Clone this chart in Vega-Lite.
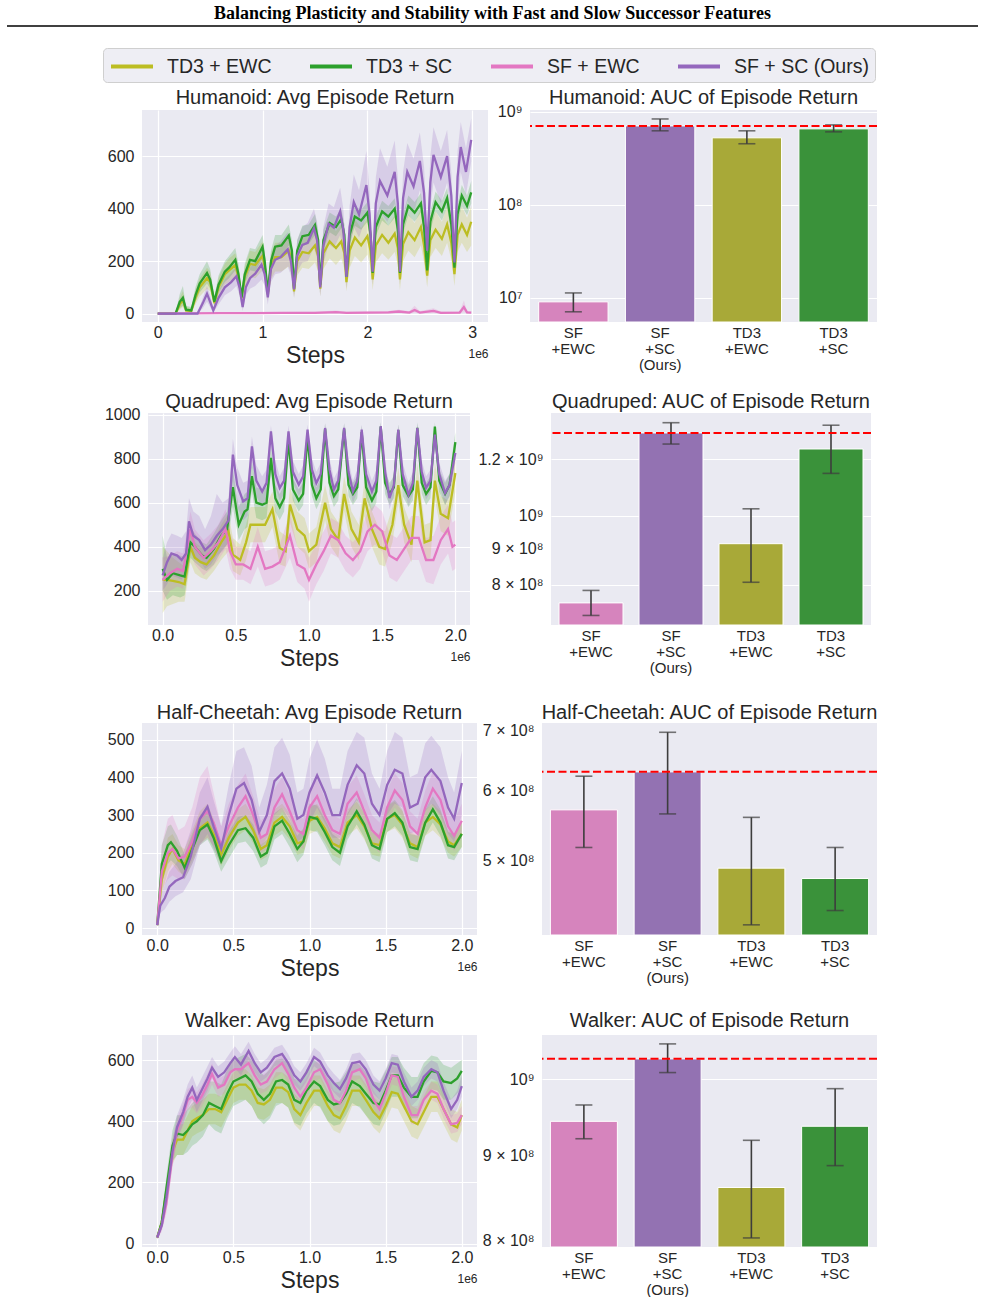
{
"$schema":"https://vega.github.io/schema/vega-lite/v6.json",
"padding":{"left":6,"top":5,"right":0,"bottom":0},
"datasets":{
"hum":[
{"m":"A","x":0,"y":0,"l":0,"h":0},{"m":"A","x":0.17,"y":0,"l":0,"h":2},{"m":"A","x":0.21,"y":35,"l":15,"h":60},{"m":"A","x":0.24,"y":52,"l":25,"h":85},{"m":"A","x":0.27,"y":12,"l":4,"h":25},{"m":"A","x":0.32,"y":10,"l":4,"h":20},{"m":"A","x":0.36,"y":60,"l":35,"h":90},{"m":"A","x":0.40,"y":100,"l":65,"h":135},{"m":"A","x":0.47,"y":135,"l":95,"h":175},{"m":"A","x":0.50,"y":120,"l":85,"h":160},{"m":"A","x":0.54,"y":40,"l":25,"h":60},{"m":"A","x":0.58,"y":100,"l":70,"h":135},{"m":"A","x":0.64,"y":150,"l":110,"h":190},{"m":"A","x":0.68,"y":165,"l":120,"h":210},{"m":"A","x":0.74,"y":185,"l":140,"h":230},{"m":"A","x":0.77,"y":140,"l":100,"h":180},{"m":"A","x":0.80,"y":58,"l":40,"h":80},{"m":"A","x":0.83,"y":140,"l":100,"h":180},{"m":"A","x":0.88,"y":190,"l":140,"h":240},{"m":"A","x":0.93,"y":185,"l":135,"h":235},{"m":"A","x":1.00,"y":220,"l":165,"h":275},{"m":"A","x":1.02,"y":180,"l":130,"h":230},{"m":"A","x":1.05,"y":72,"l":50,"h":95},{"m":"A","x":1.08,"y":180,"l":130,"h":230},{"m":"A","x":1.12,"y":215,"l":160,"h":270},{"m":"A","x":1.18,"y":215,"l":160,"h":270},{"m":"A","x":1.25,"y":240,"l":180,"h":300},{"m":"A","x":1.28,"y":200,"l":145,"h":255},{"m":"A","x":1.30,"y":85,"l":60,"h":110},{"m":"A","x":1.33,"y":200,"l":145,"h":255},{"m":"A","x":1.38,"y":235,"l":175,"h":295},{"m":"A","x":1.44,"y":230,"l":170,"h":290},{"m":"A","x":1.50,"y":260,"l":195,"h":325},{"m":"A","x":1.53,"y":220,"l":160,"h":280},{"m":"A","x":1.55,"y":95,"l":65,"h":125},{"m":"A","x":1.58,"y":230,"l":170,"h":290},{"m":"A","x":1.64,"y":275,"l":210,"h":340},{"m":"A","x":1.70,"y":250,"l":185,"h":315},{"m":"A","x":1.75,"y":275,"l":210,"h":340},{"m":"A","x":1.78,"y":230,"l":170,"h":290},{"m":"A","x":1.80,"y":120,"l":85,"h":155},{"m":"A","x":1.83,"y":240,"l":175,"h":305},{"m":"A","x":1.88,"y":290,"l":220,"h":360},{"m":"A","x":1.94,"y":260,"l":195,"h":325},{"m":"A","x":2.00,"y":295,"l":225,"h":365},{"m":"A","x":2.03,"y":240,"l":175,"h":305},{"m":"A","x":2.05,"y":130,"l":90,"h":170},{"m":"A","x":2.08,"y":260,"l":195,"h":325},{"m":"A","x":2.14,"y":300,"l":230,"h":370},{"m":"A","x":2.20,"y":270,"l":205,"h":335},{"m":"A","x":2.26,"y":305,"l":235,"h":375},{"m":"A","x":2.29,"y":250,"l":185,"h":315},{"m":"A","x":2.31,"y":130,"l":90,"h":170},{"m":"A","x":2.34,"y":265,"l":200,"h":330},{"m":"A","x":2.39,"y":310,"l":240,"h":380},{"m":"A","x":2.45,"y":280,"l":215,"h":345},{"m":"A","x":2.51,"y":330,"l":260,"h":400},{"m":"A","x":2.54,"y":260,"l":195,"h":325},{"m":"A","x":2.57,"y":145,"l":100,"h":190},{"m":"A","x":2.60,"y":280,"l":215,"h":345},{"m":"A","x":2.65,"y":320,"l":250,"h":390},{"m":"A","x":2.71,"y":285,"l":220,"h":350},{"m":"A","x":2.76,"y":340,"l":270,"h":410},{"m":"A","x":2.80,"y":270,"l":205,"h":335},{"m":"A","x":2.83,"y":150,"l":105,"h":195},{"m":"A","x":2.86,"y":300,"l":235,"h":365},{"m":"A","x":2.90,"y":340,"l":270,"h":410},{"m":"A","x":2.95,"y":300,"l":235,"h":365},{"m":"A","x":2.99,"y":350,"l":260,"h":410},
{"m":"B","x":0,"y":0,"l":0,"h":0},{"m":"B","x":0.17,"y":0,"l":0,"h":2},{"m":"B","x":0.21,"y":45,"l":20,"h":75},{"m":"B","x":0.24,"y":60,"l":30,"h":105},{"m":"B","x":0.27,"y":15,"l":5,"h":30},{"m":"B","x":0.32,"y":12,"l":5,"h":25},{"m":"B","x":0.36,"y":70,"l":45,"h":100},{"m":"B","x":0.40,"y":115,"l":80,"h":150},{"m":"B","x":0.47,"y":155,"l":115,"h":200},{"m":"B","x":0.50,"y":130,"l":95,"h":170},{"m":"B","x":0.54,"y":45,"l":30,"h":65},{"m":"B","x":0.58,"y":110,"l":80,"h":145},{"m":"B","x":0.64,"y":160,"l":120,"h":200},{"m":"B","x":0.68,"y":175,"l":135,"h":220},{"m":"B","x":0.74,"y":205,"l":165,"h":250},{"m":"B","x":0.77,"y":150,"l":115,"h":190},{"m":"B","x":0.80,"y":62,"l":45,"h":85},{"m":"B","x":0.83,"y":150,"l":115,"h":190},{"m":"B","x":0.88,"y":205,"l":165,"h":250},{"m":"B","x":0.93,"y":200,"l":160,"h":245},{"m":"B","x":1.00,"y":255,"l":210,"h":300},{"m":"B","x":1.02,"y":200,"l":160,"h":240},{"m":"B","x":1.05,"y":80,"l":60,"h":105},{"m":"B","x":1.08,"y":200,"l":160,"h":240},{"m":"B","x":1.12,"y":255,"l":215,"h":300},{"m":"B","x":1.18,"y":260,"l":220,"h":300},{"m":"B","x":1.25,"y":298,"l":260,"h":340},{"m":"B","x":1.28,"y":240,"l":205,"h":280},{"m":"B","x":1.30,"y":95,"l":75,"h":120},{"m":"B","x":1.33,"y":240,"l":205,"h":280},{"m":"B","x":1.38,"y":295,"l":260,"h":335},{"m":"B","x":1.44,"y":300,"l":265,"h":340},{"m":"B","x":1.50,"y":338,"l":300,"h":380},{"m":"B","x":1.53,"y":280,"l":245,"h":320},{"m":"B","x":1.55,"y":110,"l":90,"h":135},{"m":"B","x":1.58,"y":280,"l":245,"h":320},{"m":"B","x":1.64,"y":345,"l":310,"h":385},{"m":"B","x":1.70,"y":330,"l":295,"h":370},{"m":"B","x":1.75,"y":360,"l":325,"h":400},{"m":"B","x":1.78,"y":300,"l":265,"h":340},{"m":"B","x":1.80,"y":140,"l":120,"h":165},{"m":"B","x":1.83,"y":300,"l":265,"h":340},{"m":"B","x":1.88,"y":370,"l":335,"h":410},{"m":"B","x":1.94,"y":355,"l":320,"h":395},{"m":"B","x":2.00,"y":385,"l":350,"h":425},{"m":"B","x":2.03,"y":300,"l":265,"h":340},{"m":"B","x":2.05,"y":155,"l":130,"h":180},{"m":"B","x":2.08,"y":330,"l":295,"h":370},{"m":"B","x":2.14,"y":390,"l":355,"h":430},{"m":"B","x":2.20,"y":370,"l":335,"h":410},{"m":"B","x":2.26,"y":400,"l":365,"h":440},{"m":"B","x":2.29,"y":320,"l":285,"h":360},{"m":"B","x":2.31,"y":155,"l":130,"h":180},{"m":"B","x":2.34,"y":340,"l":305,"h":380},{"m":"B","x":2.39,"y":410,"l":375,"h":450},{"m":"B","x":2.45,"y":385,"l":350,"h":425},{"m":"B","x":2.51,"y":420,"l":385,"h":460},{"m":"B","x":2.54,"y":330,"l":295,"h":370},{"m":"B","x":2.57,"y":165,"l":140,"h":190},{"m":"B","x":2.60,"y":350,"l":315,"h":390},{"m":"B","x":2.65,"y":425,"l":390,"h":465},{"m":"B","x":2.71,"y":390,"l":355,"h":430},{"m":"B","x":2.76,"y":440,"l":405,"h":480},{"m":"B","x":2.80,"y":340,"l":305,"h":380},{"m":"B","x":2.83,"y":175,"l":150,"h":200},{"m":"B","x":2.86,"y":380,"l":345,"h":420},{"m":"B","x":2.90,"y":450,"l":410,"h":490},{"m":"B","x":2.95,"y":410,"l":375,"h":450},{"m":"B","x":2.99,"y":462,"l":420,"h":505},
{"m":"C","x":0,"y":0,"l":0,"h":0},{"m":"C","x":0.3,"y":1,"l":0,"h":3},{"m":"C","x":0.6,"y":2,"l":0,"h":5},{"m":"C","x":0.9,"y":2,"l":0,"h":5},{"m":"C","x":1.2,"y":3,"l":0,"h":6},{"m":"C","x":1.5,"y":3,"l":0,"h":7},{"m":"C","x":1.7,"y":6,"l":1,"h":12},{"m":"C","x":1.8,"y":3,"l":0,"h":7},{"m":"C","x":2.0,"y":4,"l":0,"h":8},{"m":"C","x":2.2,"y":5,"l":0,"h":10},{"m":"C","x":2.3,"y":8,"l":2,"h":15},{"m":"C","x":2.4,"y":4,"l":0,"h":9},{"m":"C","x":2.45,"y":14,"l":3,"h":30},{"m":"C","x":2.5,"y":4,"l":0,"h":9},{"m":"C","x":2.63,"y":10,"l":2,"h":20},{"m":"C","x":2.7,"y":3,"l":0,"h":8},{"m":"C","x":2.88,"y":4,"l":0,"h":9},{"m":"C","x":2.92,"y":25,"l":5,"h":50},{"m":"C","x":2.95,"y":5,"l":0,"h":10},{"m":"C","x":2.99,"y":4,"l":0,"h":8},
{"m":"D","x":0,"y":0,"l":0,"h":0},{"m":"D","x":0.38,"y":0,"l":0,"h":2},{"m":"D","x":0.43,"y":40,"l":20,"h":60},{"m":"D","x":0.47,"y":76,"l":45,"h":105},{"m":"D","x":0.50,"y":45,"l":25,"h":70},{"m":"D","x":0.53,"y":12,"l":3,"h":25},{"m":"D","x":0.58,"y":60,"l":35,"h":85},{"m":"D","x":0.64,"y":100,"l":70,"h":130},{"m":"D","x":0.70,"y":120,"l":85,"h":155},{"m":"D","x":0.75,"y":142,"l":105,"h":180},{"m":"D","x":0.78,"y":100,"l":70,"h":135},{"m":"D","x":0.81,"y":25,"l":10,"h":45},{"m":"D","x":0.84,"y":100,"l":70,"h":135},{"m":"D","x":0.88,"y":135,"l":95,"h":175},{"m":"D","x":0.93,"y":152,"l":105,"h":200},{"m":"D","x":0.99,"y":187,"l":130,"h":245},{"m":"D","x":1.02,"y":150,"l":105,"h":195},{"m":"D","x":1.05,"y":62,"l":35,"h":90},{"m":"D","x":1.08,"y":170,"l":120,"h":220},{"m":"D","x":1.12,"y":205,"l":150,"h":260},{"m":"D","x":1.17,"y":215,"l":155,"h":275},{"m":"D","x":1.24,"y":245,"l":180,"h":310},{"m":"D","x":1.27,"y":200,"l":145,"h":255},{"m":"D","x":1.30,"y":92,"l":60,"h":125},{"m":"D","x":1.33,"y":220,"l":160,"h":280},{"m":"D","x":1.38,"y":262,"l":195,"h":330},{"m":"D","x":1.43,"y":270,"l":200,"h":345},{"m":"D","x":1.49,"y":325,"l":250,"h":400},{"m":"D","x":1.52,"y":280,"l":210,"h":350},{"m":"D","x":1.55,"y":100,"l":65,"h":140},{"m":"D","x":1.58,"y":260,"l":190,"h":330},{"m":"D","x":1.63,"y":343,"l":265,"h":420},{"m":"D","x":1.68,"y":328,"l":250,"h":405},{"m":"D","x":1.74,"y":390,"l":300,"h":480},{"m":"D","x":1.77,"y":320,"l":240,"h":400},{"m":"D","x":1.80,"y":140,"l":95,"h":185},{"m":"D","x":1.83,"y":330,"l":250,"h":410},{"m":"D","x":1.87,"y":425,"l":330,"h":530},{"m":"D","x":1.92,"y":378,"l":290,"h":470},{"m":"D","x":1.99,"y":490,"l":370,"h":620},{"m":"D","x":2.02,"y":380,"l":290,"h":470},{"m":"D","x":2.05,"y":160,"l":110,"h":210},{"m":"D","x":2.08,"y":420,"l":320,"h":520},{"m":"D","x":2.12,"y":505,"l":390,"h":630},{"m":"D","x":2.19,"y":450,"l":350,"h":560},{"m":"D","x":2.26,"y":540,"l":420,"h":660},{"m":"D","x":2.29,"y":420,"l":320,"h":520},{"m":"D","x":2.31,"y":160,"l":110,"h":215},{"m":"D","x":2.34,"y":440,"l":340,"h":540},{"m":"D","x":2.38,"y":540,"l":430,"h":650},{"m":"D","x":2.44,"y":485,"l":380,"h":590},{"m":"D","x":2.50,"y":582,"l":470,"h":690},{"m":"D","x":2.54,"y":460,"l":360,"h":560},{"m":"D","x":2.57,"y":240,"l":170,"h":310},{"m":"D","x":2.60,"y":500,"l":400,"h":600},{"m":"D","x":2.63,"y":605,"l":500,"h":710},{"m":"D","x":2.70,"y":520,"l":420,"h":620},{"m":"D","x":2.76,"y":600,"l":500,"h":700},{"m":"D","x":2.80,"y":450,"l":360,"h":540},{"m":"D","x":2.83,"y":195,"l":140,"h":250},{"m":"D","x":2.86,"y":520,"l":420,"h":620},{"m":"D","x":2.89,"y":635,"l":540,"h":730},{"m":"D","x":2.94,"y":540,"l":450,"h":630},{"m":"D","x":2.99,"y":662,"l":580,"h":745}
],
"quad":[
{"m":"A","x":0,"y":250,"l":100,"h":400},{"m":"A","x":0.03,"y":250,"l":130,"h":380},{"m":"A","x":0.07,"y":245,"l":140,"h":350},{"m":"A","x":0.11,"y":240,"l":150,"h":330},{"m":"A","x":0.15,"y":230,"l":150,"h":310},{"m":"A","x":0.19,"y":400,"l":330,"h":470},{"m":"A","x":0.22,"y":350,"l":280,"h":420},{"m":"A","x":0.26,"y":330,"l":260,"h":400},{"m":"A","x":0.30,"y":320,"l":250,"h":390},{"m":"A","x":0.35,"y":360,"l":290,"h":430},{"m":"A","x":0.40,"y":420,"l":340,"h":500},{"m":"A","x":0.45,"y":470,"l":380,"h":550},{"m":"A","x":0.48,"y":364,"l":290,"h":440},{"m":"A","x":0.53,"y":340,"l":270,"h":410},{"m":"A","x":0.57,"y":420,"l":340,"h":500},{"m":"A","x":0.60,"y":500,"l":420,"h":580},{"m":"A","x":0.65,"y":500,"l":420,"h":580},{"m":"A","x":0.70,"y":500,"l":420,"h":580},{"m":"A","x":0.75,"y":570,"l":490,"h":650},{"m":"A","x":0.80,"y":394,"l":320,"h":470},{"m":"A","x":0.84,"y":380,"l":310,"h":450},{"m":"A","x":0.87,"y":591,"l":510,"h":670},{"m":"A","x":0.92,"y":480,"l":400,"h":560},{"m":"A","x":0.97,"y":450,"l":370,"h":530},{"m":"A","x":1.00,"y":380,"l":300,"h":460},{"m":"A","x":1.05,"y":410,"l":330,"h":490},{"m":"A","x":1.11,"y":600,"l":520,"h":680},{"m":"A","x":1.15,"y":480,"l":400,"h":560},{"m":"A","x":1.20,"y":430,"l":350,"h":510},{"m":"A","x":1.24,"y":640,"l":560,"h":720},{"m":"A","x":1.29,"y":480,"l":400,"h":560},{"m":"A","x":1.34,"y":420,"l":340,"h":500},{"m":"A","x":1.38,"y":620,"l":540,"h":700},{"m":"A","x":1.43,"y":480,"l":400,"h":560},{"m":"A","x":1.48,"y":400,"l":320,"h":480},{"m":"A","x":1.52,"y":390,"l":310,"h":470},{"m":"A","x":1.57,"y":500,"l":420,"h":580},{"m":"A","x":1.61,"y":680,"l":600,"h":760},{"m":"A","x":1.65,"y":500,"l":420,"h":580},{"m":"A","x":1.70,"y":410,"l":330,"h":490},{"m":"A","x":1.74,"y":700,"l":620,"h":780},{"m":"A","x":1.79,"y":420,"l":340,"h":500},{"m":"A","x":1.83,"y":430,"l":350,"h":510},{"m":"A","x":1.86,"y":700,"l":620,"h":780},{"m":"A","x":1.90,"y":550,"l":470,"h":630},{"m":"A","x":1.95,"y":530,"l":450,"h":610},{"m":"A","x":2.00,"y":735,"l":650,"h":810},
{"m":"B","x":0,"y":300,"l":200,"h":450},{"m":"B","x":0.03,"y":250,"l":160,"h":350},{"m":"B","x":0.07,"y":280,"l":180,"h":370},{"m":"B","x":0.12,"y":270,"l":170,"h":360},{"m":"B","x":0.15,"y":265,"l":180,"h":350},{"m":"B","x":0.19,"y":420,"l":350,"h":490},{"m":"B","x":0.22,"y":400,"l":330,"h":460},{"m":"B","x":0.27,"y":360,"l":300,"h":420},{"m":"B","x":0.30,"y":350,"l":290,"h":410},{"m":"B","x":0.35,"y":390,"l":320,"h":460},{"m":"B","x":0.40,"y":450,"l":380,"h":520},{"m":"B","x":0.44,"y":480,"l":410,"h":560},{"m":"B","x":0.48,"y":670,"l":580,"h":750},{"m":"B","x":0.52,"y":500,"l":430,"h":580},{"m":"B","x":0.56,"y":560,"l":480,"h":640},{"m":"B","x":0.58,"y":570,"l":490,"h":650},{"m":"B","x":0.61,"y":720,"l":650,"h":790},{"m":"B","x":0.64,"y":600,"l":530,"h":670},{"m":"B","x":0.68,"y":591,"l":520,"h":660},{"m":"B","x":0.71,"y":600,"l":530,"h":670},{"m":"B","x":0.74,"y":803,"l":740,"h":860},{"m":"B","x":0.77,"y":620,"l":560,"h":680},{"m":"B","x":0.80,"y":580,"l":520,"h":640},{"m":"B","x":0.83,"y":620,"l":560,"h":680},{"m":"B","x":0.86,"y":886,"l":840,"h":920},{"m":"B","x":0.89,"y":660,"l":610,"h":710},{"m":"B","x":0.93,"y":610,"l":560,"h":660},{"m":"B","x":0.96,"y":640,"l":590,"h":690},{"m":"B","x":0.99,"y":900,"l":860,"h":930},{"m":"B","x":1.02,"y":680,"l":630,"h":730},{"m":"B","x":1.05,"y":620,"l":570,"h":670},{"m":"B","x":1.08,"y":660,"l":610,"h":710},{"m":"B","x":1.11,"y":935,"l":900,"h":960},{"m":"B","x":1.14,"y":690,"l":640,"h":740},{"m":"B","x":1.17,"y":630,"l":580,"h":680},{"m":"B","x":1.20,"y":660,"l":610,"h":710},{"m":"B","x":1.24,"y":935,"l":900,"h":960},{"m":"B","x":1.27,"y":680,"l":630,"h":730},{"m":"B","x":1.30,"y":640,"l":590,"h":690},{"m":"B","x":1.33,"y":670,"l":620,"h":720},{"m":"B","x":1.36,"y":920,"l":880,"h":950},{"m":"B","x":1.39,"y":670,"l":620,"h":720},{"m":"B","x":1.43,"y":610,"l":560,"h":660},{"m":"B","x":1.46,"y":650,"l":600,"h":700},{"m":"B","x":1.49,"y":945,"l":910,"h":965},{"m":"B","x":1.52,"y":690,"l":640,"h":740},{"m":"B","x":1.55,"y":640,"l":590,"h":690},{"m":"B","x":1.58,"y":670,"l":620,"h":720},{"m":"B","x":1.61,"y":930,"l":900,"h":955},{"m":"B","x":1.64,"y":680,"l":630,"h":730},{"m":"B","x":1.68,"y":630,"l":580,"h":680},{"m":"B","x":1.71,"y":660,"l":610,"h":710},{"m":"B","x":1.74,"y":940,"l":910,"h":965},{"m":"B","x":1.77,"y":690,"l":640,"h":740},{"m":"B","x":1.80,"y":640,"l":590,"h":690},{"m":"B","x":1.83,"y":670,"l":620,"h":720},{"m":"B","x":1.86,"y":945,"l":910,"h":965},{"m":"B","x":1.89,"y":700,"l":650,"h":750},{"m":"B","x":1.93,"y":640,"l":590,"h":690},{"m":"B","x":1.96,"y":680,"l":630,"h":730},{"m":"B","x":2.00,"y":875,"l":830,"h":920},
{"m":"C","x":0,"y":250,"l":150,"h":350},{"m":"C","x":0.05,"y":280,"l":200,"h":360},{"m":"C","x":0.10,"y":300,"l":220,"h":380},{"m":"C","x":0.14,"y":290,"l":210,"h":370},{"m":"C","x":0.19,"y":480,"l":390,"h":560},{"m":"C","x":0.22,"y":400,"l":320,"h":480},{"m":"C","x":0.28,"y":350,"l":270,"h":430},{"m":"C","x":0.33,"y":380,"l":300,"h":460},{"m":"C","x":0.38,"y":420,"l":340,"h":500},{"m":"C","x":0.43,"y":480,"l":390,"h":570},{"m":"C","x":0.46,"y":380,"l":300,"h":460},{"m":"C","x":0.50,"y":320,"l":250,"h":400},{"m":"C","x":0.55,"y":320,"l":250,"h":400},{"m":"C","x":0.60,"y":300,"l":230,"h":380},{"m":"C","x":0.65,"y":400,"l":310,"h":490},{"m":"C","x":0.70,"y":300,"l":220,"h":380},{"m":"C","x":0.75,"y":310,"l":230,"h":390},{"m":"C","x":0.80,"y":330,"l":250,"h":410},{"m":"C","x":0.87,"y":450,"l":350,"h":550},{"m":"C","x":0.92,"y":320,"l":240,"h":400},{"m":"C","x":0.97,"y":300,"l":210,"h":390},{"m":"C","x":1.00,"y":250,"l":150,"h":350},{"m":"C","x":1.05,"y":320,"l":230,"h":410},{"m":"C","x":1.10,"y":380,"l":290,"h":470},{"m":"C","x":1.15,"y":450,"l":370,"h":530},{"m":"C","x":1.20,"y":430,"l":350,"h":510},{"m":"C","x":1.25,"y":370,"l":290,"h":450},{"m":"C","x":1.30,"y":340,"l":260,"h":420},{"m":"C","x":1.35,"y":380,"l":300,"h":460},{"m":"C","x":1.40,"y":470,"l":380,"h":560},{"m":"C","x":1.45,"y":500,"l":410,"h":590},{"m":"C","x":1.50,"y":470,"l":380,"h":560},{"m":"C","x":1.55,"y":360,"l":260,"h":460},{"m":"C","x":1.60,"y":340,"l":240,"h":440},{"m":"C","x":1.65,"y":390,"l":290,"h":490},{"m":"C","x":1.70,"y":440,"l":340,"h":540},{"m":"C","x":1.75,"y":440,"l":340,"h":540},{"m":"C","x":1.80,"y":340,"l":240,"h":440},{"m":"C","x":1.85,"y":340,"l":230,"h":450},{"m":"C","x":1.90,"y":430,"l":320,"h":540},{"m":"C","x":1.95,"y":480,"l":370,"h":590},{"m":"C","x":1.98,"y":400,"l":290,"h":510},{"m":"C","x":2.00,"y":410,"l":300,"h":520},
{"m":"D","x":0,"y":270,"l":200,"h":350},{"m":"D","x":0.03,"y":330,"l":230,"h":420},{"m":"D","x":0.06,"y":370,"l":270,"h":460},{"m":"D","x":0.10,"y":360,"l":260,"h":450},{"m":"D","x":0.13,"y":340,"l":250,"h":440},{"m":"D","x":0.16,"y":370,"l":290,"h":470},{"m":"D","x":0.18,"y":515,"l":400,"h":620},{"m":"D","x":0.21,"y":450,"l":350,"h":560},{"m":"D","x":0.25,"y":430,"l":340,"h":540},{"m":"D","x":0.29,"y":385,"l":300,"h":480},{"m":"D","x":0.33,"y":410,"l":320,"h":540},{"m":"D","x":0.37,"y":450,"l":360,"h":640},{"m":"D","x":0.41,"y":480,"l":380,"h":600},{"m":"D","x":0.45,"y":520,"l":420,"h":620},{"m":"D","x":0.48,"y":818,"l":700,"h":890},{"m":"D","x":0.51,"y":680,"l":580,"h":760},{"m":"D","x":0.55,"y":606,"l":520,"h":690},{"m":"D","x":0.58,"y":620,"l":540,"h":700},{"m":"D","x":0.61,"y":856,"l":790,"h":900},{"m":"D","x":0.64,"y":700,"l":630,"h":770},{"m":"D","x":0.68,"y":651,"l":580,"h":720},{"m":"D","x":0.71,"y":690,"l":620,"h":750},{"m":"D","x":0.74,"y":924,"l":880,"h":950},{"m":"D","x":0.77,"y":730,"l":670,"h":790},{"m":"D","x":0.80,"y":667,"l":610,"h":720},{"m":"D","x":0.83,"y":700,"l":640,"h":760},{"m":"D","x":0.86,"y":924,"l":880,"h":950},{"m":"D","x":0.89,"y":740,"l":690,"h":790},{"m":"D","x":0.93,"y":682,"l":630,"h":730},{"m":"D","x":0.96,"y":720,"l":670,"h":770},{"m":"D","x":0.99,"y":932,"l":900,"h":955},{"m":"D","x":1.02,"y":750,"l":700,"h":800},{"m":"D","x":1.05,"y":689,"l":640,"h":740},{"m":"D","x":1.08,"y":730,"l":680,"h":780},{"m":"D","x":1.11,"y":939,"l":910,"h":960},{"m":"D","x":1.14,"y":750,"l":700,"h":800},{"m":"D","x":1.17,"y":660,"l":610,"h":710},{"m":"D","x":1.20,"y":700,"l":650,"h":750},{"m":"D","x":1.24,"y":939,"l":910,"h":960},{"m":"D","x":1.27,"y":740,"l":690,"h":790},{"m":"D","x":1.30,"y":651,"l":600,"h":700},{"m":"D","x":1.33,"y":700,"l":650,"h":750},{"m":"D","x":1.36,"y":932,"l":900,"h":955},{"m":"D","x":1.39,"y":730,"l":680,"h":780},{"m":"D","x":1.43,"y":651,"l":600,"h":700},{"m":"D","x":1.46,"y":700,"l":650,"h":750},{"m":"D","x":1.49,"y":947,"l":915,"h":965},{"m":"D","x":1.52,"y":740,"l":690,"h":790},{"m":"D","x":1.55,"y":621,"l":570,"h":670},{"m":"D","x":1.58,"y":680,"l":630,"h":730},{"m":"D","x":1.61,"y":932,"l":900,"h":955},{"m":"D","x":1.64,"y":730,"l":680,"h":780},{"m":"D","x":1.68,"y":636,"l":585,"h":690},{"m":"D","x":1.71,"y":690,"l":640,"h":740},{"m":"D","x":1.74,"y":939,"l":910,"h":960},{"m":"D","x":1.77,"y":740,"l":690,"h":790},{"m":"D","x":1.80,"y":667,"l":615,"h":720},{"m":"D","x":1.83,"y":700,"l":650,"h":750},{"m":"D","x":1.86,"y":909,"l":875,"h":940},{"m":"D","x":1.89,"y":730,"l":680,"h":780},{"m":"D","x":1.93,"y":644,"l":590,"h":700},{"m":"D","x":1.96,"y":680,"l":630,"h":730},{"m":"D","x":2.00,"y":826,"l":780,"h":870}
],
"chee":[
{"m":"A","x":0,"y":8,"l":5,"h":12},{"m":"A","x":0.03,"y":130,"l":90,"h":170},{"m":"A","x":0.07,"y":190,"l":150,"h":240},{"m":"A","x":0.10,"y":210,"l":170,"h":250},{"m":"A","x":0.14,"y":180,"l":150,"h":220},{"m":"A","x":0.18,"y":170,"l":140,"h":210},{"m":"A","x":0.23,"y":220,"l":180,"h":260},{"m":"A","x":0.28,"y":265,"l":225,"h":310},{"m":"A","x":0.33,"y":280,"l":240,"h":330},{"m":"A","x":0.37,"y":250,"l":215,"h":290},{"m":"A","x":0.42,"y":195,"l":165,"h":225},{"m":"A","x":0.47,"y":240,"l":205,"h":275},{"m":"A","x":0.53,"y":280,"l":245,"h":315},{"m":"A","x":0.58,"y":295,"l":260,"h":330},{"m":"A","x":0.63,"y":260,"l":225,"h":295},{"m":"A","x":0.68,"y":210,"l":180,"h":240},{"m":"A","x":0.72,"y":220,"l":190,"h":250},{"m":"A","x":0.77,"y":280,"l":245,"h":315},{"m":"A","x":0.82,"y":295,"l":260,"h":330},{"m":"A","x":0.87,"y":270,"l":235,"h":305},{"m":"A","x":0.92,"y":225,"l":195,"h":255},{"m":"A","x":0.96,"y":230,"l":200,"h":260},{"m":"A","x":1.00,"y":285,"l":250,"h":320},{"m":"A","x":1.05,"y":295,"l":260,"h":330},{"m":"A","x":1.10,"y":265,"l":230,"h":300},{"m":"A","x":1.15,"y":225,"l":195,"h":255},{"m":"A","x":1.20,"y":215,"l":185,"h":245},{"m":"A","x":1.25,"y":280,"l":245,"h":315},{"m":"A","x":1.31,"y":300,"l":265,"h":335},{"m":"A","x":1.36,"y":270,"l":235,"h":305},{"m":"A","x":1.41,"y":225,"l":195,"h":255},{"m":"A","x":1.46,"y":220,"l":190,"h":250},{"m":"A","x":1.51,"y":290,"l":255,"h":325},{"m":"A","x":1.56,"y":300,"l":265,"h":335},{"m":"A","x":1.61,"y":275,"l":240,"h":310},{"m":"A","x":1.66,"y":225,"l":195,"h":255},{"m":"A","x":1.71,"y":215,"l":185,"h":245},{"m":"A","x":1.76,"y":280,"l":245,"h":315},{"m":"A","x":1.81,"y":295,"l":260,"h":330},{"m":"A","x":1.86,"y":275,"l":240,"h":310},{"m":"A","x":1.91,"y":230,"l":200,"h":260},{"m":"A","x":1.95,"y":220,"l":190,"h":250},{"m":"A","x":2.00,"y":250,"l":215,"h":285},
{"m":"B","x":0,"y":8,"l":5,"h":12},{"m":"B","x":0.03,"y":170,"l":120,"h":220},{"m":"B","x":0.07,"y":220,"l":170,"h":270},{"m":"B","x":0.09,"y":228,"l":180,"h":275},{"m":"B","x":0.13,"y":205,"l":165,"h":245},{"m":"B","x":0.18,"y":160,"l":130,"h":195},{"m":"B","x":0.23,"y":210,"l":170,"h":250},{"m":"B","x":0.28,"y":260,"l":220,"h":300},{"m":"B","x":0.33,"y":275,"l":235,"h":315},{"m":"B","x":0.37,"y":240,"l":205,"h":280},{"m":"B","x":0.42,"y":178,"l":150,"h":210},{"m":"B","x":0.47,"y":220,"l":185,"h":255},{"m":"B","x":0.53,"y":260,"l":225,"h":295},{"m":"B","x":0.58,"y":265,"l":230,"h":300},{"m":"B","x":0.63,"y":240,"l":205,"h":275},{"m":"B","x":0.68,"y":190,"l":160,"h":220},{"m":"B","x":0.72,"y":200,"l":170,"h":235},{"m":"B","x":0.77,"y":270,"l":235,"h":305},{"m":"B","x":0.82,"y":285,"l":250,"h":320},{"m":"B","x":0.87,"y":250,"l":215,"h":285},{"m":"B","x":0.92,"y":210,"l":175,"h":245},{"m":"B","x":0.96,"y":230,"l":195,"h":265},{"m":"B","x":1.00,"y":295,"l":260,"h":330},{"m":"B","x":1.05,"y":290,"l":255,"h":325},{"m":"B","x":1.10,"y":255,"l":220,"h":290},{"m":"B","x":1.15,"y":215,"l":180,"h":250},{"m":"B","x":1.20,"y":200,"l":165,"h":235},{"m":"B","x":1.25,"y":270,"l":235,"h":305},{"m":"B","x":1.31,"y":310,"l":275,"h":345},{"m":"B","x":1.36,"y":275,"l":240,"h":310},{"m":"B","x":1.41,"y":220,"l":185,"h":255},{"m":"B","x":1.46,"y":210,"l":175,"h":245},{"m":"B","x":1.51,"y":290,"l":255,"h":325},{"m":"B","x":1.56,"y":305,"l":270,"h":340},{"m":"B","x":1.61,"y":280,"l":245,"h":315},{"m":"B","x":1.66,"y":215,"l":180,"h":250},{"m":"B","x":1.71,"y":210,"l":175,"h":245},{"m":"B","x":1.76,"y":280,"l":245,"h":315},{"m":"B","x":1.81,"y":315,"l":280,"h":350},{"m":"B","x":1.86,"y":280,"l":245,"h":315},{"m":"B","x":1.91,"y":220,"l":185,"h":255},{"m":"B","x":1.95,"y":215,"l":180,"h":250},{"m":"B","x":2.00,"y":250,"l":215,"h":285},
{"m":"C","x":0,"y":8,"l":5,"h":12},{"m":"C","x":0.03,"y":150,"l":100,"h":220},{"m":"C","x":0.07,"y":200,"l":130,"h":290},{"m":"C","x":0.10,"y":210,"l":140,"h":300},{"m":"C","x":0.14,"y":185,"l":130,"h":260},{"m":"C","x":0.18,"y":190,"l":130,"h":270},{"m":"C","x":0.23,"y":230,"l":170,"h":320},{"m":"C","x":0.28,"y":290,"l":220,"h":400},{"m":"C","x":0.33,"y":310,"l":240,"h":430},{"m":"C","x":0.37,"y":280,"l":220,"h":360},{"m":"C","x":0.42,"y":220,"l":180,"h":270},{"m":"C","x":0.47,"y":270,"l":220,"h":330},{"m":"C","x":0.53,"y":320,"l":270,"h":380},{"m":"C","x":0.58,"y":350,"l":300,"h":410},{"m":"C","x":0.63,"y":300,"l":260,"h":350},{"m":"C","x":0.68,"y":240,"l":200,"h":285},{"m":"C","x":0.72,"y":250,"l":210,"h":300},{"m":"C","x":0.77,"y":320,"l":275,"h":370},{"m":"C","x":0.82,"y":355,"l":310,"h":400},{"m":"C","x":0.87,"y":310,"l":270,"h":355},{"m":"C","x":0.92,"y":260,"l":220,"h":300},{"m":"C","x":0.96,"y":250,"l":210,"h":290},{"m":"C","x":1.00,"y":320,"l":275,"h":370},{"m":"C","x":1.05,"y":350,"l":305,"h":395},{"m":"C","x":1.10,"y":300,"l":260,"h":345},{"m":"C","x":1.15,"y":260,"l":220,"h":300},{"m":"C","x":1.20,"y":250,"l":210,"h":290},{"m":"C","x":1.25,"y":330,"l":285,"h":375},{"m":"C","x":1.31,"y":360,"l":315,"h":405},{"m":"C","x":1.36,"y":310,"l":270,"h":355},{"m":"C","x":1.41,"y":260,"l":220,"h":300},{"m":"C","x":1.46,"y":240,"l":200,"h":280},{"m":"C","x":1.51,"y":320,"l":275,"h":365},{"m":"C","x":1.56,"y":365,"l":320,"h":410},{"m":"C","x":1.61,"y":340,"l":295,"h":385},{"m":"C","x":1.66,"y":270,"l":230,"h":310},{"m":"C","x":1.71,"y":250,"l":210,"h":290},{"m":"C","x":1.76,"y":320,"l":275,"h":365},{"m":"C","x":1.81,"y":370,"l":325,"h":415},{"m":"C","x":1.86,"y":340,"l":295,"h":385},{"m":"C","x":1.91,"y":270,"l":230,"h":310},{"m":"C","x":1.95,"y":245,"l":205,"h":285},{"m":"C","x":2.00,"y":285,"l":240,"h":330},
{"m":"D","x":0,"y":8,"l":5,"h":12},{"m":"D","x":0.02,"y":60,"l":40,"h":85},{"m":"D","x":0.05,"y":80,"l":50,"h":115},{"m":"D","x":0.08,"y":110,"l":70,"h":150},{"m":"D","x":0.12,"y":125,"l":85,"h":170},{"m":"D","x":0.17,"y":135,"l":95,"h":200},{"m":"D","x":0.22,"y":190,"l":130,"h":260},{"m":"D","x":0.28,"y":290,"l":220,"h":360},{"m":"D","x":0.33,"y":322,"l":250,"h":400},{"m":"D","x":0.37,"y":270,"l":210,"h":340},{"m":"D","x":0.42,"y":212,"l":170,"h":270},{"m":"D","x":0.47,"y":300,"l":230,"h":380},{"m":"D","x":0.52,"y":370,"l":280,"h":470},{"m":"D","x":0.57,"y":385,"l":300,"h":480},{"m":"D","x":0.62,"y":340,"l":260,"h":430},{"m":"D","x":0.67,"y":256,"l":210,"h":320},{"m":"D","x":0.72,"y":300,"l":240,"h":380},{"m":"D","x":0.77,"y":390,"l":300,"h":480},{"m":"D","x":0.82,"y":410,"l":320,"h":505},{"m":"D","x":0.87,"y":370,"l":290,"h":460},{"m":"D","x":0.92,"y":290,"l":230,"h":360},{"m":"D","x":0.96,"y":300,"l":240,"h":370},{"m":"D","x":1.00,"y":360,"l":280,"h":450},{"m":"D","x":1.05,"y":405,"l":320,"h":500},{"m":"D","x":1.10,"y":360,"l":280,"h":450},{"m":"D","x":1.15,"y":300,"l":240,"h":370},{"m":"D","x":1.20,"y":300,"l":240,"h":370},{"m":"D","x":1.25,"y":380,"l":300,"h":470},{"m":"D","x":1.31,"y":432,"l":340,"h":520},{"m":"D","x":1.36,"y":410,"l":320,"h":505},{"m":"D","x":1.41,"y":330,"l":260,"h":410},{"m":"D","x":1.46,"y":300,"l":240,"h":370},{"m":"D","x":1.51,"y":380,"l":300,"h":470},{"m":"D","x":1.56,"y":420,"l":330,"h":520},{"m":"D","x":1.61,"y":410,"l":320,"h":505},{"m":"D","x":1.66,"y":320,"l":250,"h":400},{"m":"D","x":1.71,"y":330,"l":260,"h":410},{"m":"D","x":1.76,"y":400,"l":310,"h":490},{"m":"D","x":1.80,"y":420,"l":330,"h":510},{"m":"D","x":1.86,"y":390,"l":300,"h":480},{"m":"D","x":1.91,"y":320,"l":250,"h":400},{"m":"D","x":1.95,"y":290,"l":230,"h":360},{"m":"D","x":2.00,"y":385,"l":300,"h":470}
],
"walk":[
{"m":"A","x":0,"y":20,"l":15,"h":25},{"m":"A","x":0.03,"y":70,"l":50,"h":90},{"m":"A","x":0.06,"y":170,"l":140,"h":200},{"m":"A","x":0.10,"y":300,"l":260,"h":340},{"m":"A","x":0.13,"y":340,"l":290,"h":390},{"m":"A","x":0.17,"y":340,"l":290,"h":390},{"m":"A","x":0.20,"y":370,"l":320,"h":420},{"m":"A","x":0.23,"y":400,"l":350,"h":450},{"m":"A","x":0.26,"y":410,"l":360,"h":460},{"m":"A","x":0.30,"y":420,"l":370,"h":470},{"m":"A","x":0.34,"y":440,"l":390,"h":490},{"m":"A","x":0.38,"y":440,"l":390,"h":490},{"m":"A","x":0.42,"y":430,"l":380,"h":480},{"m":"A","x":0.46,"y":470,"l":420,"h":520},{"m":"A","x":0.50,"y":510,"l":460,"h":560},{"m":"A","x":0.54,"y":520,"l":470,"h":570},{"m":"A","x":0.58,"y":520,"l":470,"h":570},{"m":"A","x":0.62,"y":500,"l":450,"h":550},{"m":"A","x":0.66,"y":460,"l":410,"h":510},{"m":"A","x":0.70,"y":455,"l":405,"h":505},{"m":"A","x":0.74,"y":470,"l":420,"h":520},{"m":"A","x":0.78,"y":510,"l":460,"h":560},{"m":"A","x":0.82,"y":510,"l":460,"h":560},{"m":"A","x":0.86,"y":495,"l":445,"h":545},{"m":"A","x":0.90,"y":440,"l":390,"h":490},{"m":"A","x":0.94,"y":420,"l":370,"h":470},{"m":"A","x":0.98,"y":460,"l":410,"h":510},{"m":"A","x":1.03,"y":500,"l":450,"h":550},{"m":"A","x":1.07,"y":500,"l":450,"h":550},{"m":"A","x":1.12,"y":450,"l":400,"h":500},{"m":"A","x":1.16,"y":420,"l":370,"h":470},{"m":"A","x":1.20,"y":410,"l":360,"h":460},{"m":"A","x":1.24,"y":450,"l":400,"h":500},{"m":"A","x":1.28,"y":500,"l":450,"h":550},{"m":"A","x":1.33,"y":500,"l":450,"h":550},{"m":"A","x":1.37,"y":470,"l":420,"h":520},{"m":"A","x":1.42,"y":430,"l":380,"h":480},{"m":"A","x":1.46,"y":410,"l":360,"h":460},{"m":"A","x":1.50,"y":450,"l":400,"h":500},{"m":"A","x":1.54,"y":495,"l":445,"h":545},{"m":"A","x":1.58,"y":490,"l":440,"h":540},{"m":"A","x":1.62,"y":450,"l":400,"h":500},{"m":"A","x":1.67,"y":400,"l":350,"h":450},{"m":"A","x":1.71,"y":390,"l":340,"h":440},{"m":"A","x":1.75,"y":430,"l":380,"h":480},{"m":"A","x":1.80,"y":480,"l":430,"h":530},{"m":"A","x":1.84,"y":480,"l":430,"h":530},{"m":"A","x":1.88,"y":440,"l":390,"h":490},{"m":"A","x":1.93,"y":390,"l":340,"h":440},{"m":"A","x":1.97,"y":380,"l":330,"h":430},{"m":"A","x":2.00,"y":420,"l":370,"h":470},
{"m":"B","x":0,"y":20,"l":15,"h":25},{"m":"B","x":0.03,"y":70,"l":50,"h":90},{"m":"B","x":0.06,"y":180,"l":140,"h":220},{"m":"B","x":0.10,"y":320,"l":270,"h":370},{"m":"B","x":0.13,"y":360,"l":290,"h":420},{"m":"B","x":0.17,"y":355,"l":290,"h":420},{"m":"B","x":0.20,"y":370,"l":300,"h":440},{"m":"B","x":0.23,"y":390,"l":320,"h":460},{"m":"B","x":0.26,"y":400,"l":330,"h":470},{"m":"B","x":0.30,"y":420,"l":350,"h":490},{"m":"B","x":0.34,"y":460,"l":390,"h":530},{"m":"B","x":0.38,"y":450,"l":370,"h":530},{"m":"B","x":0.42,"y":440,"l":360,"h":520},{"m":"B","x":0.46,"y":490,"l":410,"h":570},{"m":"B","x":0.50,"y":530,"l":450,"h":600},{"m":"B","x":0.54,"y":540,"l":460,"h":610},{"m":"B","x":0.58,"y":550,"l":470,"h":620},{"m":"B","x":0.62,"y":530,"l":450,"h":600},{"m":"B","x":0.66,"y":490,"l":410,"h":570},{"m":"B","x":0.70,"y":470,"l":390,"h":550},{"m":"B","x":0.74,"y":490,"l":410,"h":570},{"m":"B","x":0.78,"y":530,"l":450,"h":600},{"m":"B","x":0.82,"y":535,"l":460,"h":605},{"m":"B","x":0.86,"y":520,"l":445,"h":590},{"m":"B","x":0.90,"y":470,"l":395,"h":540},{"m":"B","x":0.94,"y":460,"l":385,"h":530},{"m":"B","x":0.98,"y":500,"l":425,"h":570},{"m":"B","x":1.03,"y":530,"l":460,"h":600},{"m":"B","x":1.07,"y":515,"l":445,"h":585},{"m":"B","x":1.12,"y":470,"l":400,"h":540},{"m":"B","x":1.16,"y":455,"l":385,"h":525},{"m":"B","x":1.20,"y":460,"l":390,"h":530},{"m":"B","x":1.24,"y":490,"l":420,"h":560},{"m":"B","x":1.28,"y":530,"l":460,"h":595},{"m":"B","x":1.33,"y":515,"l":445,"h":585},{"m":"B","x":1.37,"y":490,"l":420,"h":560},{"m":"B","x":1.42,"y":460,"l":390,"h":530},{"m":"B","x":1.46,"y":455,"l":385,"h":525},{"m":"B","x":1.50,"y":500,"l":430,"h":565},{"m":"B","x":1.54,"y":550,"l":480,"h":610},{"m":"B","x":1.58,"y":550,"l":480,"h":610},{"m":"B","x":1.62,"y":510,"l":440,"h":575},{"m":"B","x":1.67,"y":480,"l":410,"h":545},{"m":"B","x":1.71,"y":480,"l":410,"h":545},{"m":"B","x":1.75,"y":530,"l":465,"h":590},{"m":"B","x":1.80,"y":565,"l":505,"h":615},{"m":"B","x":1.84,"y":560,"l":500,"h":610},{"m":"B","x":1.88,"y":530,"l":470,"h":585},{"m":"B","x":1.93,"y":525,"l":470,"h":575},{"m":"B","x":1.97,"y":540,"l":490,"h":590},{"m":"B","x":2.00,"y":565,"l":510,"h":600},
{"m":"C","x":0,"y":20,"l":15,"h":25},{"m":"C","x":0.03,"y":60,"l":40,"h":80},{"m":"C","x":0.06,"y":130,"l":100,"h":160},{"m":"C","x":0.10,"y":290,"l":250,"h":330},{"m":"C","x":0.13,"y":370,"l":330,"h":410},{"m":"C","x":0.17,"y":420,"l":385,"h":455},{"m":"C","x":0.20,"y":470,"l":435,"h":505},{"m":"C","x":0.23,"y":480,"l":445,"h":515},{"m":"C","x":0.26,"y":460,"l":425,"h":495},{"m":"C","x":0.29,"y":480,"l":445,"h":515},{"m":"C","x":0.33,"y":520,"l":485,"h":555},{"m":"C","x":0.36,"y":555,"l":520,"h":590},{"m":"C","x":0.40,"y":510,"l":480,"h":540},{"m":"C","x":0.44,"y":520,"l":490,"h":550},{"m":"C","x":0.48,"y":560,"l":530,"h":590},{"m":"C","x":0.51,"y":570,"l":540,"h":600},{"m":"C","x":0.55,"y":570,"l":540,"h":600},{"m":"C","x":0.60,"y":590,"l":560,"h":620},{"m":"C","x":0.64,"y":550,"l":520,"h":580},{"m":"C","x":0.68,"y":520,"l":490,"h":550},{"m":"C","x":0.72,"y":530,"l":500,"h":560},{"m":"C","x":0.77,"y":570,"l":540,"h":600},{"m":"C","x":0.82,"y":590,"l":560,"h":620},{"m":"C","x":0.86,"y":555,"l":525,"h":585},{"m":"C","x":0.90,"y":510,"l":480,"h":540},{"m":"C","x":0.94,"y":480,"l":450,"h":510},{"m":"C","x":0.98,"y":510,"l":480,"h":540},{"m":"C","x":1.03,"y":560,"l":530,"h":590},{"m":"C","x":1.07,"y":570,"l":540,"h":600},{"m":"C","x":1.12,"y":520,"l":490,"h":550},{"m":"C","x":1.16,"y":470,"l":440,"h":500},{"m":"C","x":1.20,"y":460,"l":430,"h":490},{"m":"C","x":1.24,"y":500,"l":470,"h":530},{"m":"C","x":1.28,"y":560,"l":530,"h":590},{"m":"C","x":1.33,"y":570,"l":540,"h":600},{"m":"C","x":1.37,"y":540,"l":510,"h":570},{"m":"C","x":1.42,"y":470,"l":440,"h":500},{"m":"C","x":1.46,"y":440,"l":410,"h":470},{"m":"C","x":1.50,"y":490,"l":460,"h":520},{"m":"C","x":1.54,"y":550,"l":520,"h":580},{"m":"C","x":1.58,"y":545,"l":515,"h":575},{"m":"C","x":1.62,"y":480,"l":450,"h":510},{"m":"C","x":1.67,"y":420,"l":390,"h":450},{"m":"C","x":1.71,"y":420,"l":390,"h":450},{"m":"C","x":1.75,"y":470,"l":440,"h":500},{"m":"C","x":1.80,"y":500,"l":470,"h":530},{"m":"C","x":1.84,"y":490,"l":460,"h":520},{"m":"C","x":1.88,"y":440,"l":410,"h":470},{"m":"C","x":1.93,"y":390,"l":360,"h":420},{"m":"C","x":1.97,"y":395,"l":365,"h":425},{"m":"C","x":2.00,"y":420,"l":390,"h":450},
{"m":"D","x":0,"y":20,"l":15,"h":25},{"m":"D","x":0.03,"y":60,"l":45,"h":75},{"m":"D","x":0.06,"y":150,"l":120,"h":180},{"m":"D","x":0.10,"y":300,"l":260,"h":340},{"m":"D","x":0.13,"y":380,"l":340,"h":420},{"m":"D","x":0.17,"y":430,"l":390,"h":470},{"m":"D","x":0.20,"y":480,"l":440,"h":520},{"m":"D","x":0.23,"y":510,"l":470,"h":550},{"m":"D","x":0.26,"y":470,"l":430,"h":510},{"m":"D","x":0.29,"y":500,"l":460,"h":540},{"m":"D","x":0.33,"y":540,"l":500,"h":580},{"m":"D","x":0.36,"y":575,"l":540,"h":610},{"m":"D","x":0.40,"y":545,"l":510,"h":580},{"m":"D","x":0.44,"y":560,"l":525,"h":595},{"m":"D","x":0.48,"y":590,"l":555,"h":625},{"m":"D","x":0.51,"y":610,"l":575,"h":645},{"m":"D","x":0.55,"y":585,"l":550,"h":620},{"m":"D","x":0.60,"y":630,"l":600,"h":660},{"m":"D","x":0.64,"y":590,"l":560,"h":620},{"m":"D","x":0.68,"y":560,"l":530,"h":590},{"m":"D","x":0.72,"y":575,"l":545,"h":605},{"m":"D","x":0.77,"y":610,"l":580,"h":640},{"m":"D","x":0.82,"y":620,"l":590,"h":650},{"m":"D","x":0.86,"y":590,"l":560,"h":620},{"m":"D","x":0.90,"y":550,"l":520,"h":580},{"m":"D","x":0.94,"y":530,"l":500,"h":560},{"m":"D","x":0.98,"y":560,"l":530,"h":590},{"m":"D","x":1.03,"y":610,"l":580,"h":640},{"m":"D","x":1.07,"y":595,"l":565,"h":625},{"m":"D","x":1.12,"y":550,"l":520,"h":580},{"m":"D","x":1.16,"y":525,"l":495,"h":555},{"m":"D","x":1.20,"y":505,"l":475,"h":535},{"m":"D","x":1.24,"y":540,"l":510,"h":570},{"m":"D","x":1.28,"y":590,"l":560,"h":620},{"m":"D","x":1.33,"y":595,"l":565,"h":625},{"m":"D","x":1.37,"y":570,"l":540,"h":600},{"m":"D","x":1.42,"y":520,"l":490,"h":550},{"m":"D","x":1.46,"y":500,"l":470,"h":530},{"m":"D","x":1.50,"y":540,"l":510,"h":570},{"m":"D","x":1.54,"y":590,"l":560,"h":620},{"m":"D","x":1.58,"y":585,"l":555,"h":615},{"m":"D","x":1.62,"y":530,"l":500,"h":560},{"m":"D","x":1.67,"y":480,"l":450,"h":510},{"m":"D","x":1.71,"y":500,"l":470,"h":530},{"m":"D","x":1.75,"y":545,"l":515,"h":575},{"m":"D","x":1.80,"y":570,"l":540,"h":600},{"m":"D","x":1.84,"y":560,"l":530,"h":590},{"m":"D","x":1.88,"y":500,"l":470,"h":530},{"m":"D","x":1.93,"y":440,"l":410,"h":470},{"m":"D","x":1.97,"y":470,"l":440,"h":500},{"m":"D","x":2.00,"y":515,"l":480,"h":550}
],
"bars":[
{"p":"H","m":"C","v":9.06e6,"l":7.08e6,"h":1.13e7},{"p":"H","m":"D","v":7.08e8,"l":6.27e8,"h":8.41e8},{"p":"H","m":"A","v":5.27e8,"l":4.55e8,"h":6.27e8},{"p":"H","m":"B","v":6.58e8,"l":6.11e8,"h":7.26e8},
{"p":"Q","m":"C","v":7.54e8,"l":7.24e8,"h":7.85e8},{"p":"Q","m":"D","v":1.306e9,"l":1.26e9,"h":1.35e9},{"p":"Q","m":"A","v":9.13e8,"l":8.06e8,"h":1.022e9},{"p":"Q","m":"B","v":1.24e9,"l":1.146e9,"h":1.339e9},
{"p":"C","m":"C","v":5.70e8,"l":5.17e8,"h":6.22e8},{"p":"C","m":"D","v":6.29e8,"l":5.64e8,"h":6.97e8},{"p":"C","m":"A","v":4.90e8,"l":4.23e8,"h":5.59e8},{"p":"C","m":"B","v":4.77e8,"l":4.39e8,"h":5.17e8},
{"p":"W","m":"C","v":9.434e8,"l":9.21e8,"h":9.65e8},{"p":"W","m":"D","v":1.0285e9,"l":1.0092e9,"h":1.05e9},{"p":"W","m":"A","v":8.61e8,"l":8.03e8,"h":9.19e8},{"p":"W","m":"B","v":9.37e8,"l":8.874e8,"h":9.87e8}
]
},
"vconcat":[
{"width":971,"height":1,
 "view":{"fill":null,"stroke":null},
 "title":{"text":"Balancing Plasticity and Stability with Fast and Slow Successor Features","font":"Liberation Serif","fontSize":18,"fontWeight":"bold","color":"#000000","offset":2},
 "data":{"values":[{}]},
 "mark":{"type":"rule","color":"#000000","strokeWidth":1.5},
 "encoding":{"y":{"datum":1,"type":"quantitative","scale":{"domain":[0,1]},"axis":{"orient":"right","labels":false,"ticks":false,"domain":false,"grid":false,"title":null,"minExtent":35,"maxExtent":35}}}},
{"vconcat":[
 {"hconcat":[
  {"width":346,"height":212,"title":{"text":"Humanoid: Avg Episode Return","offset":2},"data":{"name":"hum"},
   "layer":[
    {"mark":{"type":"area","fillOpacity":0.22},
     "encoding":{
      "x":{"field":"x","type":"quantitative","scale":{"domain":[-0.15,3.15],"nice":false,"zero":false},"axis":{"values":[0,1,2,3],"format":"d","title":"Steps","titleFontSize":23,"labelPadding":2,"titlePadding":4}},
      "y":{"field":"l","type":"quantitative","scale":{"domain":[-32,776],"nice":false,"zero":false},"axis":{"values":[0,200,400,600],"format":"d","title":null,"labelPadding":8}},
      "y2":{"field":"h"},
      "color":{"field":"m","type":"nominal","scale":{"domain":["A","B","C","D"],"range":["#bcbd22","#2ca02c","#e377c2","#9467bd"]},
       "legend":{"orient":"none","legendX":96,"legendY":22,"direction":"horizontal","columns":4,"title":null,"symbolType":"M-1,0H3","symbolSize":441,"symbolStrokeWidth":4,"symbolOpacity":1,"labelFontSize":19.5,"labelColor":"#262626","labelOffset":33,"columnPadding":30,"padding":6,"fillColor":"#eeeef4","strokeColor":"#cfcfcf","cornerRadius":4,
        "labelExpr":"datum.value == 'A' ? 'TD3 + EWC' : datum.value == 'B' ? 'TD3 + SC' : datum.value == 'C' ? 'SF + EWC' : 'SF + SC (Ours)'"}}}},
    {"mark":{"type":"line","strokeWidth":2.3},
     "encoding":{
      "x":{"field":"x","type":"quantitative","axis":{"title":"1e6","orient":"bottom","labels":false,"grid":false,"titleAnchor":"end","titleFontSize":12,"titlePadding":26,"titleBaseline":"top"}},
      "y":{"field":"y","type":"quantitative","axis":{"values":[0,200,400,600],"format":"d","title":null,"labelPadding":8}},
      "color":{"field":"m","type":"nominal","scale":{"domain":["A","B","C","D"],"range":["#bcbd22","#2ca02c","#e377c2","#9467bd"]}}}}
   ],
   "resolve":{"axis":{"x":"independent"}}},
  {"width":347,"height":212,"title":{"text":"Humanoid: AUC of Episode Return","offset":-4},"data":{"name":"bars"},
   "transform":[{"filter":"datum.p == 'H'"}],
   "layer":[
    {"mark":{"type":"bar","stroke":"#ffffff","strokeWidth":1},
     "encoding":{
      "x":{"field":"m","type":"nominal","sort":["C","D","A","B"],"scale":{"paddingInner":0.2,"paddingOuter":0.1},"axis":{"title":null,"labelAngle":0,"grid":false,"labelFontSize":15,"labelLineHeight":16,"labelPadding":3,"labelExpr":"datum.value == 'C' ? ['SF','+EWC'] : datum.value == 'D' ? ['SF','+SC','(Ours)'] : datum.value == 'A' ? ['TD3','+EWC'] : ['TD3','+SC']"}},
      "y":{"field":"v","type":"quantitative","scale":{"type":"log","domain":[5.5e6,1.05e9],"nice":false,"clamp":true},"axis":{"values":[1e7,1e8,1e9],"title":null,"labelPadding":8,"labelExpr":"datum.value > 5e8 ? '10⁹' : datum.value > 5e7 ? '10⁸' : '10⁷'"}},
      "y2":{"datum":1},
      "fill":{"field":"m","type":"nominal","scale":{"domain":["A","B","C","D"],"range":["#a8a938","#3a923a","#d684bd","#9372b2"]},"legend":null}}},
    {"mark":{"type":"errorbar","color":"#3d3d3d","thickness":1.6,"ticks":{"size":17,"thickness":1.6,"color":"#3d3d3d"}},
     "encoding":{"x":{"field":"m","type":"nominal","sort":["C","D","A","B"],"title":null},"y":{"field":"l","type":"quantitative","title":null},"y2":{"field":"h"}}},
    {"transform":[{"filter":"datum.m == 'D'"}],"mark":{"type":"rule","color":"#ff0000","strokeWidth":2,"strokeDash":[8,3.5]},
     "encoding":{"y":{"field":"v","type":"quantitative","title":null}}}
   ]}
 ],"spacing":9},
 {"vconcat":[
  {"hconcat":[
   {"width":322,"height":212,"title":{"text":"Quadruped: Avg Episode Return","offset":-5},"data":{"name":"quad"},
    "layer":[
     {"mark":{"type":"area","fillOpacity":0.22},
      "encoding":{
       "x":{"field":"x","type":"quantitative","scale":{"domain":[-0.1,2.1],"nice":false,"zero":false},"axis":{"values":[0,0.5,1,1.5,2],"format":".1f","title":"Steps","titleFontSize":23,"labelPadding":2,"titlePadding":4}},
       "y":{"field":"l","type":"quantitative","scale":{"domain":[45,1007],"nice":false,"zero":false},"axis":{"values":[200,400,600,800,1000],"format":"d","title":null,"labelPadding":8}},
       "y2":{"field":"h"},
       "color":{"field":"m","type":"nominal","scale":{"domain":["A","B","C","D"],"range":["#bcbd22","#2ca02c","#e377c2","#9467bd"]}}}},
     {"mark":{"type":"line","strokeWidth":2.3},
      "encoding":{
       "x":{"field":"x","type":"quantitative","axis":{"title":"1e6","orient":"bottom","labels":false,"grid":false,"titleAnchor":"end","titleFontSize":12,"titlePadding":26,"titleBaseline":"top"}},
       "y":{"field":"y","type":"quantitative","axis":{"values":[200,400,600,800,1000],"format":"d","title":null,"labelPadding":8}},
       "color":{"field":"m","type":"nominal","scale":{"domain":["A","B","C","D"],"range":["#bcbd22","#2ca02c","#e377c2","#9467bd"]}}}}
    ],
    "resolve":{"axis":{"x":"independent"}}},
   {"width":320,"height":212,"title":{"text":"Quadruped: AUC of Episode Return","offset":1},"data":{"name":"bars"},
    "transform":[{"filter":"datum.p == 'Q'"}],
    "layer":[
     {"mark":{"type":"bar","stroke":"#ffffff","strokeWidth":1},
      "encoding":{
       "x":{"field":"m","type":"nominal","sort":["C","D","A","B"],"scale":{"paddingInner":0.2,"paddingOuter":0.1},"axis":{"title":null,"labelAngle":0,"grid":false,"labelFontSize":15,"labelLineHeight":16,"labelPadding":3,"labelExpr":"datum.value == 'C' ? ['SF','+EWC'] : datum.value == 'D' ? ['SF','+SC','(Ours)'] : datum.value == 'A' ? ['TD3','+EWC'] : ['TD3','+SC']"}},
       "y":{"field":"v","type":"quantitative","scale":{"type":"log","domain":[7.02e8,1.393e9],"nice":false,"clamp":true},"axis":{"values":[8e8,9e8,1e9,1.2e9],"title":null,"labelPadding":8,"gridOpacity":{"condition":{"test":"datum.value > 8.5e8 && datum.value < 9.5e8","value":0},"value":1},"labelExpr":"datum.value > 1.1e9 ? '1.2 × 10⁹' : datum.value > 9.5e8 ? '10⁹' : datum.value > 8.5e8 ? '9 × 10⁸' : '8 × 10⁸'"}},
       "y2":{"datum":1},
       "fill":{"field":"m","type":"nominal","scale":{"domain":["A","B","C","D"],"range":["#a8a938","#3a923a","#d684bd","#9372b2"]},"legend":null}}},
     {"mark":{"type":"errorbar","color":"#3d3d3d","thickness":1.6,"ticks":{"size":17,"thickness":1.6,"color":"#3d3d3d"}},
      "encoding":{"x":{"field":"m","type":"nominal","sort":["C","D","A","B"],"title":null},"y":{"field":"l","type":"quantitative","title":null},"y2":{"field":"h"}}},
     {"transform":[{"filter":"datum.m == 'D'"}],"mark":{"type":"rule","color":"#ff0000","strokeWidth":2,"strokeDash":[8,3.5]},
      "encoding":{"y":{"field":"v","type":"quantitative","title":null}}}
    ]}
  ],"spacing":7},
  {"vconcat":[
   {"hconcat":[
    {"width":335,"height":212,"title":{"text":"Half-Cheetah: Avg Episode Return","offset":0},"data":{"name":"chee"},
     "layer":[
      {"mark":{"type":"area","fillOpacity":0.22},
       "encoding":{
        "x":{"field":"x","type":"quantitative","scale":{"domain":[-0.1,2.1],"nice":false,"zero":false},"axis":{"values":[0,0.5,1,1.5,2],"format":".1f","title":"Steps","titleFontSize":23,"labelPadding":2,"titlePadding":4}},
        "y":{"field":"l","type":"quantitative","scale":{"domain":[-18,544],"nice":false,"zero":false},"axis":{"values":[0,100,200,300,400,500],"format":"d","title":null,"labelPadding":8}},
        "y2":{"field":"h"},
        "color":{"field":"m","type":"nominal","scale":{"domain":["A","B","C","D"],"range":["#bcbd22","#2ca02c","#e377c2","#9467bd"]}}}},
      {"mark":{"type":"line","strokeWidth":2.3},
       "encoding":{
        "x":{"field":"x","type":"quantitative","axis":{"title":"1e6","orient":"bottom","labels":false,"grid":false,"titleAnchor":"end","titleFontSize":12,"titlePadding":26,"titleBaseline":"top"}},
        "y":{"field":"y","type":"quantitative","axis":{"values":[0,100,200,300,400,500],"format":"d","title":null,"labelPadding":8}},
        "color":{"field":"m","type":"nominal","scale":{"domain":["A","B","C","D"],"range":["#bcbd22","#2ca02c","#e377c2","#9467bd"]}}}}
     ],
     "resolve":{"axis":{"x":"independent"}}},
    {"width":335,"height":212,"title":{"text":"Half-Cheetah: AUC of Episode Return","offset":0},"data":{"name":"bars"},
     "transform":[{"filter":"datum.p == 'C'"}],
     "layer":[
      {"mark":{"type":"bar","stroke":"#ffffff","strokeWidth":1},
       "encoding":{
        "x":{"field":"m","type":"nominal","sort":["C","D","A","B"],"scale":{"paddingInner":0.2,"paddingOuter":0.1},"axis":{"title":null,"labelAngle":0,"grid":false,"labelFontSize":15,"labelLineHeight":16,"labelPadding":3,"labelExpr":"datum.value == 'C' ? ['SF','+EWC'] : datum.value == 'D' ? ['SF','+SC','(Ours)'] : datum.value == 'A' ? ['TD3','+EWC'] : ['TD3','+SC']"}},
        "y":{"field":"v","type":"quantitative","scale":{"type":"log","domain":[4.12e8,7.14e8],"nice":false,"clamp":true},"axis":{"values":[5e8,6e8,7e8],"title":null,"labelPadding":8,"grid":false,"labelExpr":"datum.value > 6.5e8 ? '7 × 10⁸' : datum.value > 5.5e8 ? '6 × 10⁸' : '5 × 10⁸'"}},
        "y2":{"datum":1},
        "fill":{"field":"m","type":"nominal","scale":{"domain":["A","B","C","D"],"range":["#a8a938","#3a923a","#d684bd","#9372b2"]},"legend":null}}},
      {"mark":{"type":"errorbar","color":"#3d3d3d","thickness":1.6,"ticks":{"size":17,"thickness":1.6,"color":"#3d3d3d"}},
       "encoding":{"x":{"field":"m","type":"nominal","sort":["C","D","A","B"],"title":null},"y":{"field":"l","type":"quantitative","title":null},"y2":{"field":"h"}}},
      {"transform":[{"filter":"datum.m == 'D'"}],"mark":{"type":"rule","color":"#ff0000","strokeWidth":2,"strokeDash":[8,3.5]},
       "encoding":{"y":{"field":"v","type":"quantitative","title":null}}}
     ]}
   ],"spacing":5},
   {"hconcat":[
    {"width":335,"height":212,"title":{"text":"Walker: Avg Episode Return"},"data":{"name":"walk"},
     "layer":[
      {"mark":{"type":"area","fillOpacity":0.22},
       "encoding":{
        "x":{"field":"x","type":"quantitative","scale":{"domain":[-0.1,2.1],"nice":false,"zero":false},"axis":{"values":[0,0.5,1,1.5,2],"format":".1f","title":"Steps","titleFontSize":23,"labelPadding":2,"titlePadding":4}},
        "y":{"field":"l","type":"quantitative","scale":{"domain":[-11,682],"nice":false,"zero":false},"axis":{"values":[0,200,400,600],"format":"d","title":null,"labelPadding":8}},
        "y2":{"field":"h"},
        "color":{"field":"m","type":"nominal","scale":{"domain":["A","B","C","D"],"range":["#bcbd22","#2ca02c","#e377c2","#9467bd"]}}}},
      {"mark":{"type":"line","strokeWidth":2.3},
       "encoding":{
        "x":{"field":"x","type":"quantitative","axis":{"title":"1e6","orient":"bottom","labels":false,"grid":false,"titleAnchor":"end","titleFontSize":12,"titlePadding":26,"titleBaseline":"top"}},
        "y":{"field":"y","type":"quantitative","axis":{"values":[0,200,400,600],"format":"d","title":null,"labelPadding":8}},
        "color":{"field":"m","type":"nominal","scale":{"domain":["A","B","C","D"],"range":["#bcbd22","#2ca02c","#e377c2","#9467bd"]}}}}
     ],
     "resolve":{"axis":{"x":"independent"}}},
    {"width":335,"height":212,"title":{"text":"Walker: AUC of Episode Return"},"data":{"name":"bars"},
     "transform":[{"filter":"datum.p == 'W'"}],
     "layer":[
      {"mark":{"type":"bar","stroke":"#ffffff","strokeWidth":1},
       "encoding":{
        "x":{"field":"m","type":"nominal","sort":["C","D","A","B"],"scale":{"paddingInner":0.2,"paddingOuter":0.1},"axis":{"title":null,"labelAngle":0,"grid":false,"labelFontSize":15,"labelLineHeight":16,"labelPadding":3,"labelExpr":"datum.value == 'C' ? ['SF','+EWC'] : datum.value == 'D' ? ['SF','+SC','(Ours)'] : datum.value == 'A' ? ['TD3','+EWC'] : ['TD3','+SC']"}},
        "y":{"field":"v","type":"quantitative","scale":{"type":"log","domain":[7.93e8,1.063e9],"nice":false,"clamp":true},"axis":{"values":[8e8,9e8,1e9],"title":null,"labelPadding":8,"gridOpacity":{"condition":{"test":"datum.value < 9.5e8","value":0},"value":1},"labelExpr":"datum.value > 9.5e8 ? '10⁹' : datum.value > 8.5e8 ? '9 × 10⁸' : '8 × 10⁸'"}},
        "y2":{"datum":1},
        "fill":{"field":"m","type":"nominal","scale":{"domain":["A","B","C","D"],"range":["#a8a938","#3a923a","#d684bd","#9372b2"]},"legend":null}}},
      {"mark":{"type":"errorbar","color":"#3d3d3d","thickness":1.6,"ticks":{"size":17,"thickness":1.6,"color":"#3d3d3d"}},
       "encoding":{"x":{"field":"m","type":"nominal","sort":["C","D","A","B"],"title":null},"y":{"field":"l","type":"quantitative","title":null},"y2":{"field":"h"}}},
      {"transform":[{"filter":"datum.m == 'D'"}],"mark":{"type":"rule","color":"#ff0000","strokeWidth":2,"strokeDash":[8,3.5]},
       "encoding":{"y":{"field":"v","type":"quantitative","title":null}}}
     ]}
   ],"spacing":5}
  ],"spacing":26,"center":true}
 ],"spacing":27,"center":true}
],"spacing":19,"center":true}
],
"spacing":60,
"center":true,
"config":{
 "font":"Liberation Sans",
 "view":{"fill":"#EAEAF2","stroke":null},
 "axis":{"domain":false,"ticks":false,"gridColor":"#ffffff","gridWidth":1.2,"labelColor":"#262626","labelFontSize":16,"titleColor":"#262626","titleFontWeight":"normal","labelFont":"Liberation Sans","titleFont":"Liberation Sans"},
 "title":{"fontSize":20,"fontWeight":"normal","color":"#262626","anchor":"middle","frame":"group","offset":0,"baseline":"alphabetic","font":"Liberation Sans"}
}
}
